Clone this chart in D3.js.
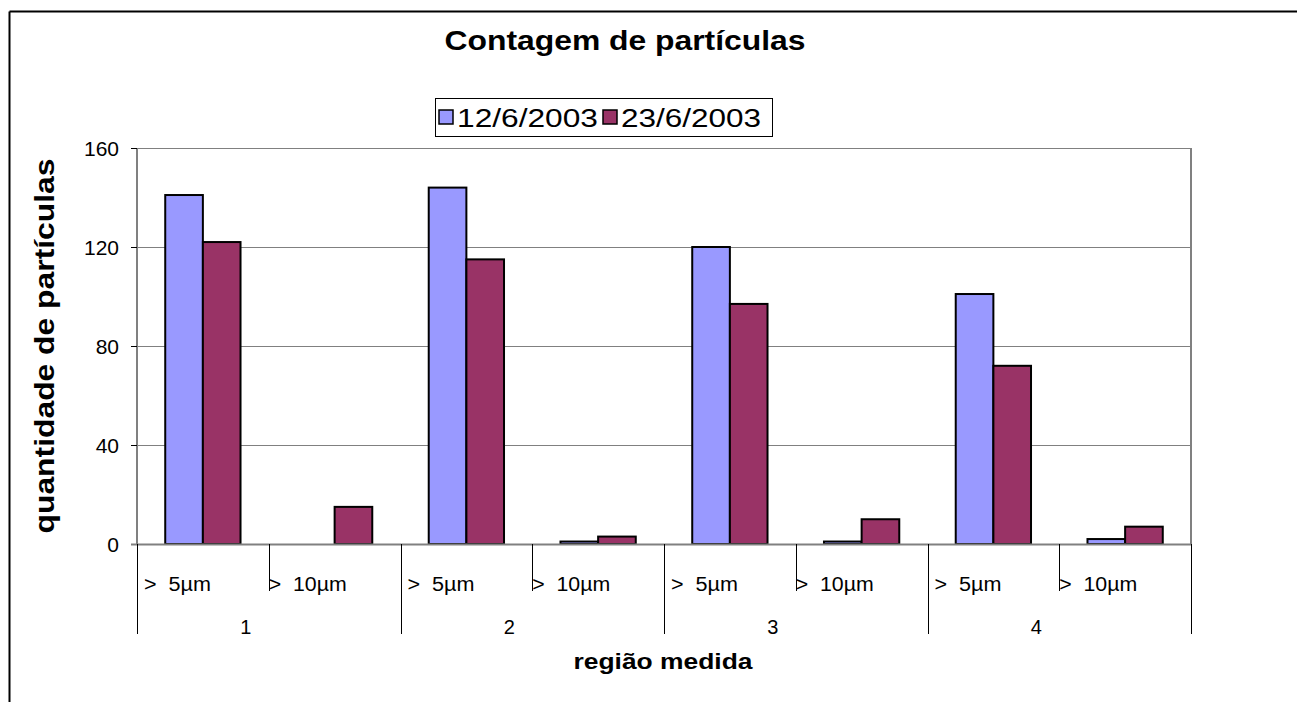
<!DOCTYPE html>
<html>
<head>
<meta charset="utf-8">
<script src="https://d3js.org/d3.v7.min.js"></script>
<style>
    body { margin: 0; background: #fff; }
    svg { display: block; font-family: "Liberation Sans", Arial, sans-serif; }
</style>
</head>
<body>
<svg id="chart" width="1297" height="702"></svg>
<script>
// data
var regions = ["1", "2", "3", "4"];
var sizes = [">  5µm", ">  10µm"];
var seriesNames = ["12/6/2003", "23/6/2003"];
var serie1 = [141, 0, 144, 1, 120, 1, 101, 2];
var serie2 = [122, 15, 115, 3, 97, 10, 72, 7];
var yTicks = [0, 40, 80, 120, 160];
var colors = ["#9999FF", "#993366"];

var svg = d3.select("#chart");

var pLeft = 137, pRight = 1191, pTop = 148, pBottom = 544;

// categories = region x size
var cats = [];
regions.forEach(function (r) {
    sizes.forEach(function (s) {
        cats.push(r + "|" + s);
    });
});

var x = d3.scaleBand().domain(cats).range([pLeft, pRight]);
var y = d3.scaleLinear().domain([0, 160]).range([pBottom, pTop]);

// text helper, the original font is drawn wider so stretch to width
function addText(parent, str, px, py, size, bold, width, anchor) {
    var t = parent.append("text").attr("x", px).attr("y", py)
        .attr("text-anchor", anchor || "start")
        .style("font-size", size + "px")
        .style("white-space", "pre")
        .text(str);
    if (bold) t.style("font-weight", "bold");
    if (width) t.attr("textLength", width).attr("lengthAdjust", "spacingAndGlyphs");
    return t;
}

// outer frame
svg.append("line").attr("x1", 9.5).attr("y1", 11.5).attr("x2", 1297).attr("y2", 11.5)
    .attr("stroke", "#000").attr("stroke-width", 2);
svg.append("line").attr("x1", 9.5).attr("y1", 11.5).attr("x2", 9.5).attr("y2", 702)
    .attr("stroke", "#000").attr("stroke-width", 2);

// title
addText(svg, "Contagem de partículas", 625, 50, 28, true, 361, "middle");

// gridlines
svg.selectAll(".grid").data(yTicks.slice(1)).enter().append("line")
    .attr("x1", pLeft).attr("x2", pRight)
    .attr("y1", function (d) { return Math.round(y(d)) + 0.5; })
    .attr("y2", function (d) { return Math.round(y(d)) + 0.5; })
    .attr("stroke", "#808080").attr("stroke-width", 1);

// right border of plot
svg.append("line").attr("x1", pRight).attr("x2", pRight).attr("y1", pTop).attr("y2", pBottom)
    .attr("stroke", "#808080").attr("stroke-width", 2);

// y axis
var yAxis = d3.axisLeft(y).tickValues(yTicks).tickSize(6).tickPadding(12);
var gy = svg.append("g").attr("transform", "translate(" + pLeft + ",0)").call(yAxis);
gy.select(".domain").attr("stroke", "#808080").attr("stroke-width", 2).attr("d", "M0," + pTop + "V" + pBottom);
gy.selectAll(".tick line").attr("stroke", "#000");
gy.selectAll(".tick text").style("font-size", "21px").attr("fill", "#000")
    .attr("font-family", null).attr("dy", "0.35em");

// bars
var bw = x.bandwidth() / 3.5;
var bars = [];
cats.forEach(function (c, i) {
    bars.push({ cat: c, s: 0, v: serie1[i] });
    bars.push({ cat: c, s: 1, v: serie2[i] });
});
svg.selectAll(".bar").data(bars).enter().append("rect")
    .attr("x", function (d) { return x(d.cat) + bw * 0.75 + d.s * bw; })
    .attr("y", function (d) { return y(d.v); })
    .attr("width", bw)
    .attr("height", function (d) { return pBottom - y(d.v); })
    .attr("fill", function (d) { return colors[d.s]; })
    .attr("stroke", "#000").attr("stroke-width", 2)
    .style("display", function (d) { return d.v > 0 ? null : "none"; });

// x axis line
svg.append("line").attr("x1", pLeft - 6).attr("x2", pRight).attr("y1", pBottom + 0.5).attr("y2", pBottom + 0.5)
    .attr("stroke", "#808080").attr("stroke-width", 2);

// category ticks: short ones between sizes, long ones between regions
var labelWidth = [67, 78];
cats.forEach(function (c, i) {
    var xx = Math.round(x(c)) + 0.5;
    var long = i % 2 == 0;
    svg.append("line").attr("x1", xx).attr("x2", xx).attr("y1", pBottom).attr("y2", long ? 634 : 591)
        .attr("stroke", "#000").attr("stroke-width", 1);
    addText(svg, c.split("|")[1], x(c) + (long ? 7 : 0), 591, 20, false, labelWidth[i % 2]);
});
svg.append("line").attr("x1", pRight + 0.5).attr("x2", pRight + 0.5).attr("y1", pBottom).attr("y2", 634)
    .attr("stroke", "#000").attr("stroke-width", 1);

// region labels
regions.forEach(function (r, i) {
    var cx = x(r + "|" + sizes[0]) + x.bandwidth() - 23;
    addText(svg, r, cx, 634, 20, false, null, "middle");
});

// axis titles
addText(svg, "região medida", 663, 669, 22, true, 179, "middle");
var yt = svg.append("g").attr("transform", "translate(54," + ((pTop + pBottom) / 2) + ") rotate(-90)");
addText(yt, "quantidade de partículas", 0, 0, 27, true, 375, "middle");

// legend
var lg = svg.append("g").attr("transform", "translate(435,98)");
lg.append("rect").attr("x", 0.5).attr("y", 0.5).attr("width", 337).attr("height", 38)
    .attr("fill", "#fff").attr("stroke", "#000").attr("stroke-width", 1);
var legendX = [4, 168];
var legendW = [141, 140];
seriesNames.forEach(function (n, i) {
    lg.append("rect").attr("x", legendX[i]).attr("y", 12).attr("width", 14).attr("height", 14)
        .attr("fill", colors[i]).attr("stroke", "#000").attr("stroke-width", 1.5);
    addText(lg, n, legendX[i] + 18, 29, 25, false, legendW[i]);
});
</script>
</body>
</html>
